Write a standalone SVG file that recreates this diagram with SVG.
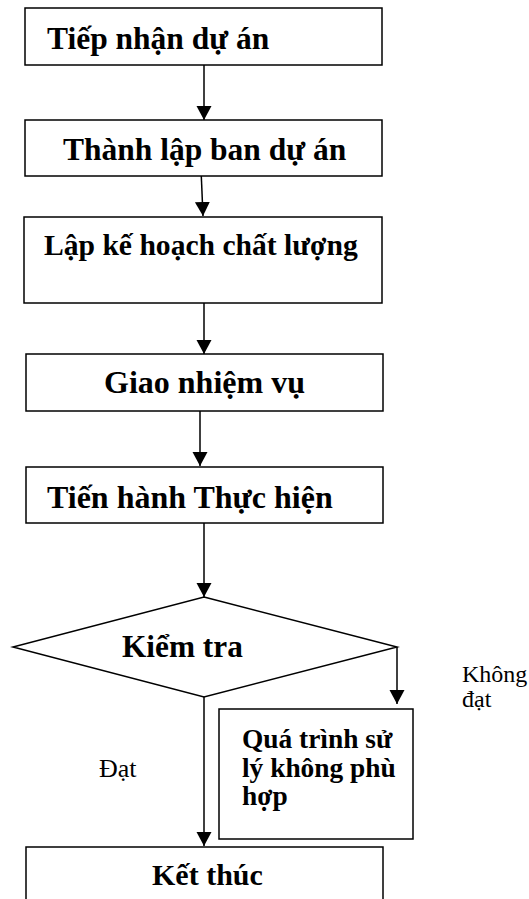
<svg xmlns="http://www.w3.org/2000/svg" width="529" height="899" viewBox="0 0 529 899">
<style>
.box{fill:#fff;stroke:#000;stroke-width:1.5}
.t{font-family:'Liberation Serif','Times New Roman',serif;font-weight:bold;font-size:31.5px;fill:#000}
.q{font-size:27.4px}
.s{font-family:'Liberation Serif','Times New Roman',serif;font-size:24px;fill:#000}
.c{stroke:#000;stroke-width:1.5;fill:none;marker-end:url(#ah)}
</style>
<defs>
<marker id="ah" markerUnits="userSpaceOnUse" markerWidth="16" markerHeight="16" refX="14" refY="7.5" orient="auto">
<path d="M0,0 L14,7.5 L0,15 Z" fill="#000"/>
</marker>
</defs>
<rect width="529" height="899" fill="#fff"/>
<g id="connectors">
<line class="c" x1="204" y1="65" x2="204" y2="120"/>
<line class="c" x1="201" y1="169" x2="203" y2="216"/>
<line class="c" x1="204" y1="303" x2="204" y2="354"/>
<line class="c" x1="200" y1="411" x2="200" y2="466"/>
<line class="c" x1="204" y1="523" x2="204" y2="597"/>
<line class="c" x1="397" y1="647" x2="397" y2="704"/>
<line class="c" x1="204" y1="697" x2="204" y2="846"/>
</g>
<g id="n1"><rect class="box" x="25" y="8" width="357" height="57"/><text class="t" x="47" y="49">Tiếp nhận dự án</text></g>
<g id="n2"><rect class="box" x="25" y="120" width="357" height="56"/><text class="t" x="63" y="160">Thành lập ban dự án</text></g>
<g id="n3"><rect class="box" x="24" y="217" width="358" height="86"/><text class="t" x="44" y="255" style="font-size:29.6px">Lập kế hoạch chất lượng</text></g>
<g id="n4"><rect class="box" x="26" y="354" width="357" height="57"/><text class="t" x="104" y="393" style="font-size:32px">Giao nhiệm vụ</text></g>
<g id="n5"><rect class="box" x="26" y="467" width="357" height="56"/><text class="t" x="47" y="508" style="font-size:32px">Tiến hành Thực hiện</text></g>
<g id="n6"><polygon class="box" points="204,597 397,647 204,697 13,647"/><text class="t" x="122" y="657" style="font-size:31.3px">Kiểm tra</text></g>
<g id="n7"><rect class="box" x="219" y="709" width="194" height="130"/><text class="t q" x="242" y="748">Quá trình sử</text><text class="t q" x="242" y="777">lý không phù</text><text class="t q" x="242" y="805">hợp</text></g>
<g id="n8"><rect class="box" x="26" y="847" width="357" height="70"/><text class="t" x="152" y="885" style="font-size:30px">Kết thúc</text></g>
<g id="labels">
<text class="s" x="99" y="777" style="font-size:26px">Đạt</text>
<text class="s" x="462" y="682">Không</text>
<text class="s" x="462" y="707">đạt</text>
</g>
</svg>
